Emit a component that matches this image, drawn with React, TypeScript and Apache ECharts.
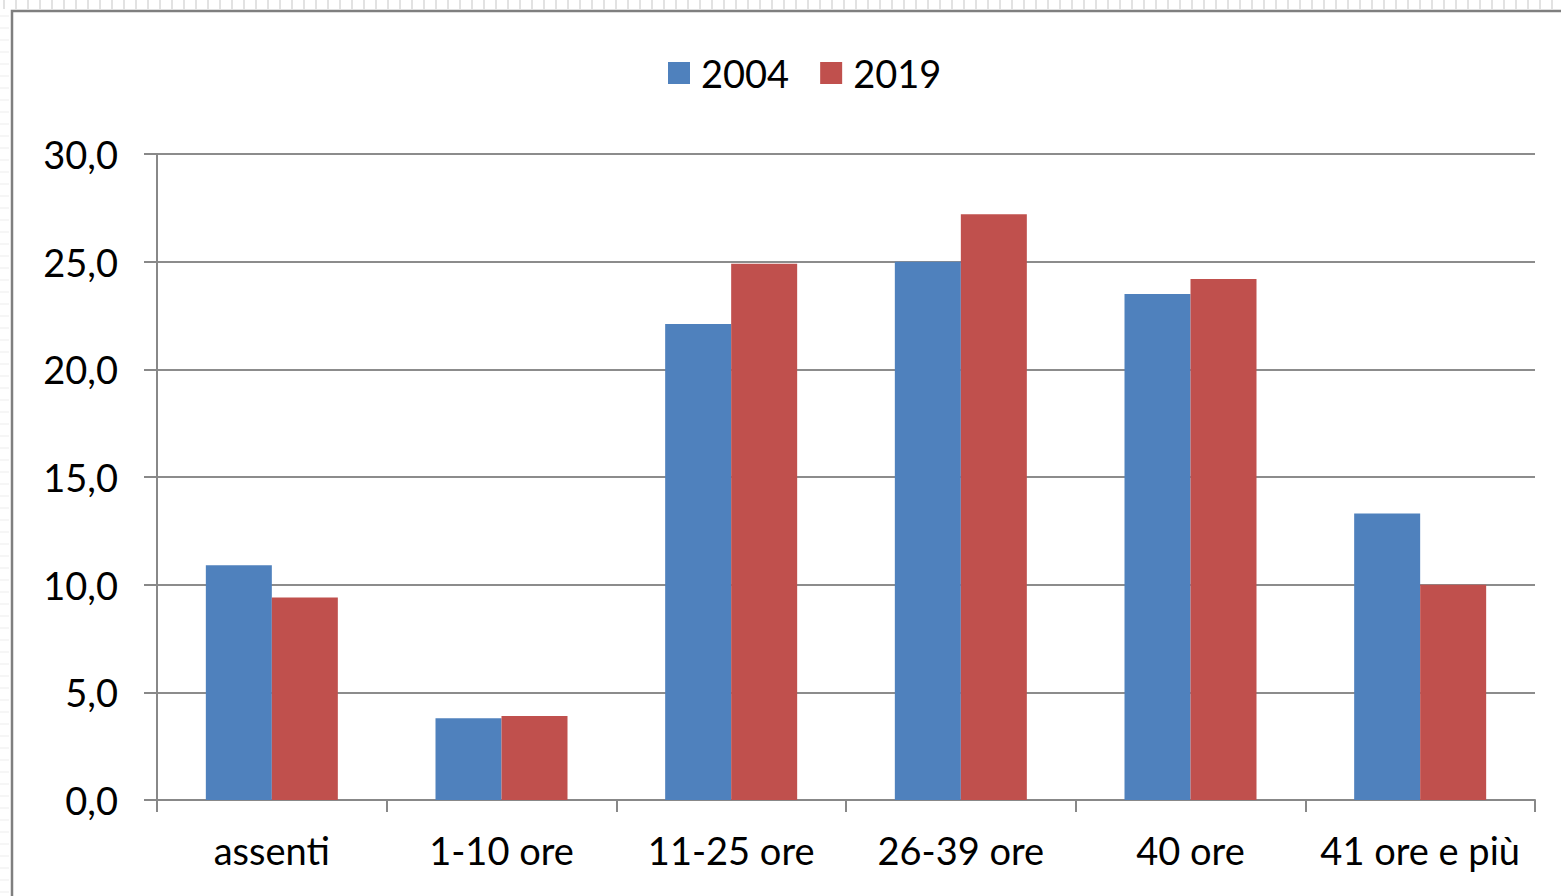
import React, { useEffect, useRef } from "react";
import * as echarts from "echarts";

const categories = ["assenti", "1-10 ore", "11-25 ore", "26-39 ore", "40 ore", "41 ore e più"];
const series2004 = [10.9, 3.8, 22.1, 25.0, 23.5, 13.3];
const series2019 = [9.4, 3.9, 24.9, 27.2, 24.2, 10.0];
const seriesNames = ["2004", "2019"];
const colors = ["#4F81BD", "#C0504D"];

const FONT = "Lato";

export default function App() {
  const ref = useRef<HTMLDivElement>(null);
  useEffect(() => {
    if (!ref.current) return;
    const chart = echarts.init(ref.current, null, { renderer: "svg" });
    const hatch: any[] = [];
    for (let x = 4; x < 1561; x += 12) {
      hatch.push({
        type: "line",
        shape: { x1: x, y1: 0, x2: x, y2: 9 },
        style: { stroke: "#e2e2e2", lineWidth: 2 },
        silent: true,
      });
    }
    for (let y = 16; y < 896; y += 12) {
      hatch.push({
        type: "line",
        shape: { x1: 0, y1: y, x2: 9, y2: y },
        style: { stroke: "#ededed", lineWidth: 1 },
        silent: true,
      });
    }
    chart.setOption({
      animation: false,
      backgroundColor: "#ffffff",
      graphic: [
        ...hatch,
        {
          type: "rect",
          shape: { x: 12, y: 11, width: 1600, height: 950 },
          style: { fill: "#ffffff", stroke: "#7f7f7f", lineWidth: 2.5 },
          silent: true,
          z: -10,
        },
      ],
      legend: {
        data: seriesNames,
        left: 663,
        top: 49,
        itemWidth: 22,
        itemHeight: 22,
        itemGap: 31,
        icon: "rect",
        textStyle: { fontFamily: FONT, fontSize: 38, color: "#000000", padding: [0, 0, 0, 6] },
      },
      grid: { left: 157, right: 26, top: 154, bottom: 96, containLabel: false },
      xAxis: {
        type: "category",
        data: categories,
        axisLine: { lineStyle: { color: "#888888", width: 2 } },
        axisTick: { show: true, length: 12, alignWithLabel: false, lineStyle: { color: "#888888", width: 2 } },
        axisLabel: { fontFamily: FONT, fontSize: 38, color: "#000000", margin: 31, interval: 0 },
        splitLine: { show: false },
      },
      yAxis: {
        type: "value",
        min: 0,
        max: 30,
        interval: 5,
        axisLine: { show: true, lineStyle: { color: "#888888", width: 2 } },
        axisTick: { show: true, length: 13, lineStyle: { color: "#888888", width: 2 } },
        axisLabel: {
          fontFamily: FONT,
          fontSize: 38,
          color: "#000000",
          margin: 39,
          formatter: (v: number) => v.toFixed(1).replace(".", ","),
        },
        splitLine: { show: true, lineStyle: { color: "#8c8c8c", width: 2 } },
      },
      series: [
        {
          name: seriesNames[0],
          type: "bar",
          data: series2004,
          barWidth: 66,
          barGap: "0%",
          itemStyle: { color: colors[0] },
        },
        {
          name: seriesNames[1],
          type: "bar",
          data: series2019,
          barWidth: 66,
          barGap: "0%",
          itemStyle: { color: colors[1] },
        },
      ],
    });
    return () => chart.dispose();
  }, []);
  return (
    <div
      ref={ref}
      style={{ position: "fixed", left: 0, top: 0, width: 1561, height: 896 }}
    />
  );
}
